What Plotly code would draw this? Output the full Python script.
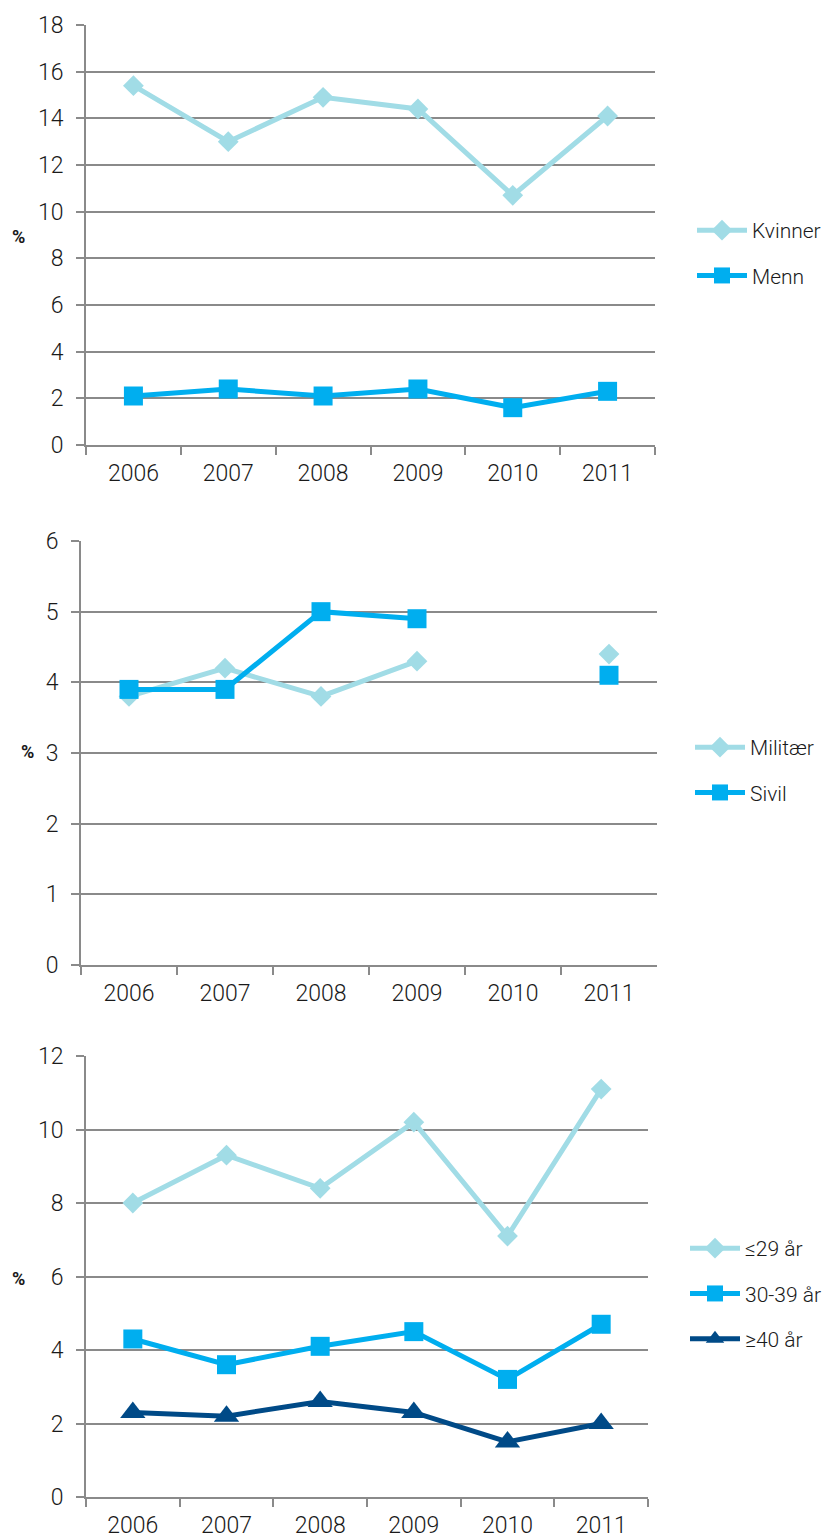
import plotly.graph_objects as go

# Categories (years)
years = ["2006", "2007", "2008", "2009", "2010", "2011"]

# Panel 1: by gender (%)
kvinner = [15.4, 13.0, 14.9, 14.4, 10.7, 14.1]
menn = [2.1, 2.4, 2.1, 2.4, 1.6, 2.3]

# Panel 2: military vs civilian (%), no data for 2010
militaer = [3.8, 4.2, 3.8, 4.3, None, 4.4]
sivil = [3.9, 3.9, 5.0, 4.9, None, 4.1]

# Panel 3: by age group (%)
age_29 = [8.0, 9.3, 8.4, 10.2, 7.1, 11.1]
age_30_39 = [4.3, 3.6, 4.1, 4.5, 3.2, 4.7]
age_40 = [2.3, 2.2, 2.6, 2.3, 1.5, 2.0]

W, H = 834, 1540
LIGHT = "#A1DCE6"
MID = "#00AEEF"
DARK = "#004A87"
GRID = "#8A8A8A"
FONT = "Roboto, sans-serif"
TXT = "#1a1a1a"


def px_x(v):
    return v / W


def px_y(v):
    return 1 - v / H


fig = go.Figure()


def add_series(name, y, color, symbol, msize, xa, ya, legend):
    fig.add_trace(go.Scatter(
        x=years, y=y, name=name, mode="lines+markers",
        line=dict(color=color, width=5),
        marker=dict(symbol=symbol, size=msize, color=color),
        connectgaps=False, xaxis=xa, yaxis=ya, legend=legend,
        legendgroup=name,
    ))


add_series("Kvinner", kvinner, LIGHT, "diamond", 16, "x", "y", "legend")
add_series("Menn", menn, MID, "square", 19, "x", "y", "legend")
add_series("Militær", militaer, LIGHT, "diamond", 16, "x2", "y2", "legend2")
add_series("Sivil", sivil, MID, "square", 19, "x2", "y2", "legend2")
add_series("≤29 år", age_29, LIGHT, "diamond", 16, "x3", "y3", "legend3")
add_series("30-39 år", age_30_39, MID, "square", 19, "x3", "y3", "legend3")
add_series("≥40 år", age_40, DARK, "triangle-up", 22, "x3", "y3", "legend3")

panels = [
    # (x-left, x-right, y-top, y-bottom, ymax, dtick)
    (86, 655, 25, 445, 18, 2),
    (81, 657, 541, 965, 6, 1),
    (86, 648, 1056, 1497, 12, 2),
]

layout = dict(
    width=W, height=H,
    margin=dict(l=0, r=0, t=0, b=0, autoexpand=False),
    paper_bgcolor="white", plot_bgcolor="white",
    font=dict(family=FONT, size=23, color=TXT),
    showlegend=True,
)

for i, (xl, xr, yt, yb, ymax, dt) in enumerate(panels, start=1):
    sx = "" if i == 1 else str(i)
    layout["xaxis" + sx] = dict(
        type="category", domain=[px_x(xl), px_x(xr)],
        anchor="y" + sx, range=[-0.5, 5.5], automargin=False,
        tickson="boundaries", ticks="outside", ticklen=8,
        tickcolor=GRID, tickwidth=2,
        showline=True, linecolor=GRID, linewidth=2,
        showgrid=False, zeroline=False,
        tickfont=dict(family=FONT, size=23, color=TXT, weight=300),
        ticklabelstandoff=6,
    )
    layout["yaxis" + sx] = dict(
        domain=[px_y(yb), px_y(yt)], anchor="x" + sx, automargin=False,
        range=[0, ymax], dtick=dt, tick0=0,
        ticks="outside", ticklen=8, tickcolor=GRID, tickwidth=2,
        showline=True, linecolor=GRID, linewidth=2,
        showgrid=True, gridcolor=GRID, gridwidth=2,
        zeroline=False,
        tickfont=dict(family=FONT, size=23, color=TXT, weight=300),
        ticklabelstandoff=8,
    )

legend_style = dict(
    font=dict(family=FONT, size=21, color=TXT, weight=300),
    bgcolor="rgba(0,0,0,0)", xanchor="left", yanchor="top",
    itemwidth=50, tracegroupgap=15,
)
layout["legend"] = dict(legend_style, x=px_x(692), y=px_y(210))
layout["legend2"] = dict(legend_style, x=px_x(690), y=px_y(727))
layout["legend3"] = dict(legend_style, x=px_x(685), y=px_y(1228))

fig.update_layout(**layout)

# "%" axis captions
for xp, yp in [(18, 237), (27, 752), (18, 1278)]:
    fig.add_annotation(
        x=px_x(xp), y=px_y(yp), xref="paper", yref="paper",
        text="<b>%</b>", showarrow=False,
        font=dict(family=FONT, size=18, color=TXT),
        xanchor="center", yanchor="middle",
    )

fig.write_html("out.html")
